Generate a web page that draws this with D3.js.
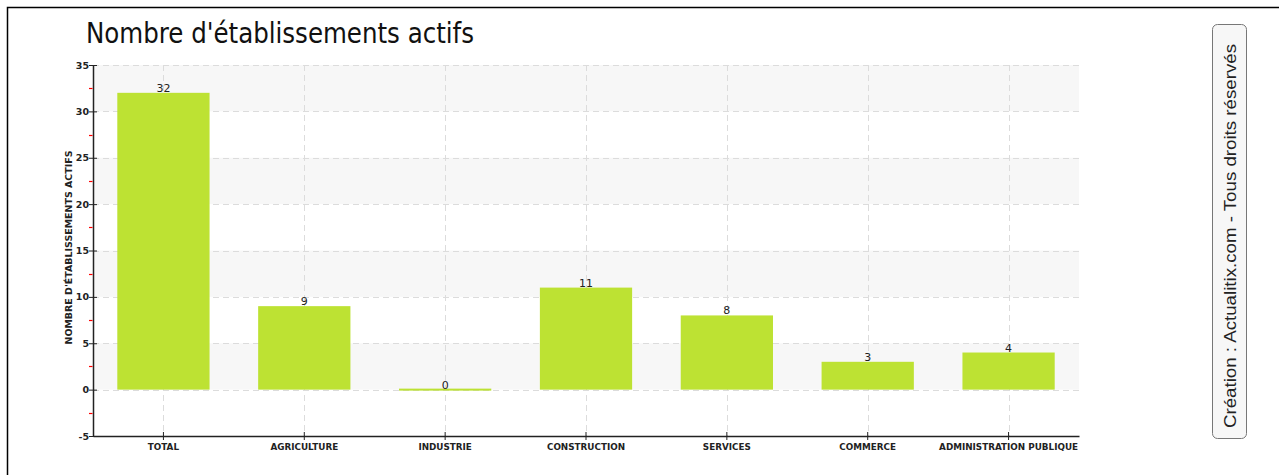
<!DOCTYPE html>
<html><head><meta charset="utf-8">
<script src="https://cdn.jsdelivr.net/npm/d3@7"></script>
<style>body{margin:0;background:#fff;overflow:hidden}</style>
</head><body>
<svg id="c" width="1279" height="475"></svg>
<script>
const categories = ["TOTAL","AGRICULTURE","INDUSTRIE","CONSTRUCTION","SERVICES","COMMERCE","ADMINISTRATION PUBLIQUE"];
const values = [32, 9, 0, 11, 8, 3, 4];
const yTicks = [-5, 0, 5, 10, 15, 20, 25, 30, 35];
const title = "Nombre d'établissements actifs";
const yLabel = "NOMBRE D'ÉTABLISSEMENTS ACTIFS";
const credit = "Création : Actualitix.com - Tous droits réservés";

const svg = d3.select("#c");
const L = 93, R = 1079, T = 65, B = 436;
// outer border
svg.append("rect").attr("x",7.5).attr("y",7.5).attr("width",1300).attr("height",500)
  .attr("fill","none").attr("stroke","#000").attr("stroke-width",1.5);

const x = d3.scaleBand().domain(categories).range([L, R]).paddingInner(0.345).paddingOuter(0.1725);
const y = d3.scaleLinear().domain([-5, 35]).range([B, T]);

// stripes
for (let i = 0; i < yTicks.length - 1; i++) {
  const a = yTicks[i], b = yTicks[i+1];
  if (a >= 0 && (a/5) % 2 === 0) {
    svg.append("rect").attr("x", L).attr("width", R - L).attr("y", y(b)).attr("height", y(a) - y(b)).attr("fill", "#f7f7f7");
  }
}
// horizontal grid
svg.append("g").selectAll("line").data(yTicks.filter(d => d > -5)).join("line")
  .attr("x1", L).attr("x2", R).attr("y1", d => Math.round(y(d)) + 0.5).attr("y2", d => Math.round(y(d)) + 0.5)
  .attr("stroke", "#dcdcdc").attr("stroke-dasharray", "6,4");
// vertical grid
svg.append("g").selectAll("line").data(categories).join("line")
  .attr("x1", d => Math.round(x(d) + x.bandwidth()/2) + 0.5).attr("x2", d => Math.round(x(d) + x.bandwidth()/2) + 0.5)
  .attr("y1", T).attr("y2", B).attr("stroke", "#dcdcdc").attr("stroke-dasharray", "6,4");

// bars
svg.append("g").selectAll("rect").data(values).join("rect")
  .attr("x", (d,i) => x(categories[i])).attr("width", x.bandwidth())
  .attr("y", d => Math.min(y(d), y(0)) - (d === 0 ? 1 : 0))
  .attr("height", d => Math.max(2, Math.abs(y(0) - y(d))))
  .attr("fill", "#bde233");

// value labels
svg.append("g").selectAll("text").data(values).join("text")
  .attr("x", (d,i) => x(categories[i]) + x.bandwidth()/2).attr("y", d => y(d) - 1)
  .attr("text-anchor", "middle").attr("font-family", "DejaVu Sans").attr("font-size", 11).attr("fill", "#222")
  .text(d => d);

// y axis
const ya = svg.append("g").attr("transform", `translate(${L},0)`)
  .call(d3.axisLeft(y).tickValues(yTicks).tickFormat(d => String(d)).tickSize(4).tickSizeOuter(0).tickPadding(1));
ya.select(".domain").attr("stroke", "#222").attr("stroke-width", 1.5);
ya.selectAll(".tick line").attr("x2", 4).attr("x1", -4).attr("stroke", "#222");
ya.selectAll("text").attr("font-family", "DejaVu Sans").attr("font-weight", "bold").attr("font-size", 9.5).attr("fill", "#222").attr("x", -4);

// minor red ticks
const minors = d3.range(-2.5, 35, 5);
svg.append("g").selectAll("line").data(minors).join("line")
  .attr("x1", L - 4).attr("x2", L - 0.5).attr("y1", d => Math.round(y(d)) + 0.5).attr("y2", d => Math.round(y(d)) + 0.5)
  .attr("stroke", "#ff0000").attr("stroke-width", 1.2);

// x axis
const xa = svg.append("g").attr("transform", `translate(0,${B})`)
  .call(d3.axisBottom(x).tickSize(4).tickSizeOuter(0).tickPadding(4));
xa.select(".domain").attr("stroke", "#222").attr("stroke-width", 1.5);
xa.selectAll(".tick line").attr("y1", -4).attr("y2", 4).attr("stroke", "#222");
xa.selectAll("text").attr("font-family", "DejaVu Sans").attr("font-weight", "bold").attr("font-size", 8.8).attr("fill", "#222");

// title
svg.append("text").attr("x", 86).attr("y", 43).attr("font-family", "DejaVu Sans Condensed, Liberation Sans Narrow").attr("font-size", 28)
  .attr("textLength", 388).attr("lengthAdjust", "spacingAndGlyphs")
  .attr("fill", "#111").text(title);

// y label
svg.append("text").attr("transform", `translate(72,${(T+B)/2 - 3}) rotate(-90)`).attr("text-anchor", "middle")
  .attr("font-family", "DejaVu Sans").attr("font-weight", "bold").attr("font-size", 8).attr("textLength", 194).attr("lengthAdjust", "spacingAndGlyphs")
  .attr("fill", "#222").text(yLabel);

// credit box
svg.append("rect").attr("x", 1212.5).attr("y", 24.5).attr("width", 34).attr("height", 414).attr("rx", 5)
  .attr("fill", "#f7f7f7").attr("stroke", "#777");
svg.append("text").attr("transform", "translate(1236,236) rotate(-90)").attr("text-anchor", "middle")
  .attr("font-family", "Liberation Sans, Arial").attr("font-size", 17).attr("textLength", 384).attr("lengthAdjust", "spacingAndGlyphs")
  .attr("fill", "#222").text(credit);
</script>
</body></html>
